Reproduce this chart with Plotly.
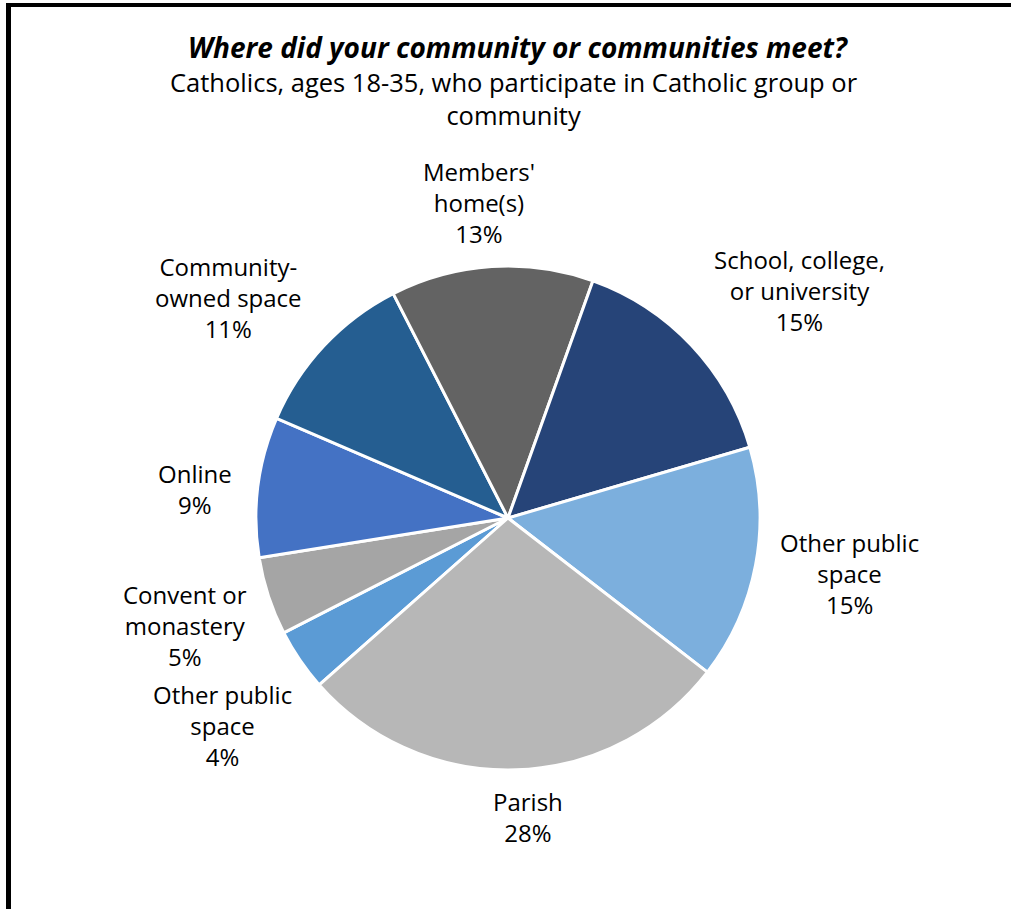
import math
import plotly.graph_objects as go

# ---- data (clockwise order, Excel series order) ----
categories = ["Other public space", "Convent or monastery", "Online", "Community-owned space",
              "Members' home(s)", "School, college, or university", "Other public space", "Parish"]
label_lines = ["Other public<br>space", "Convent or<br>monastery", "Online", "Community-<br>owned space",
               "Members'<br>home(s)", "School, college,<br>or university", "Other public<br>space", "Parish"]
values = [4, 5, 9, 11, 13, 15, 15, 28]
colors = ["#5B9BD5", "#A5A5A5", "#4472C4", "#255E91", "#636363", "#264478", "#7CAFDD", "#B7B7B7"]

title_text = "Where did your community or communities meet?"
subtitle_text = "Catholics, ages 18-35, who participate in Catholic group or<br>community"

# ---- layout / style ----
W, H = 1011, 909
FONT = "Open Sans"
LABEL_SIZE = 24
cx, cy, R = 508, 518, 252
rotation = 228.5
gap = 14
# small per-label pixel nudges (dx right, dy down) to mimic Excel's best-fit placement
label_nudge = [(6, 31), (-6, 10), (-10, 8), (-10, -7), (-12, -3), (10, -13), (9, -3), (11, 2)]

def px(x):
    return x / W

def py(y):
    return 1 - y / H

# unique keys so the two "Other public space" slices are not merged
keys = [f"{i}: {c}" for i, c in enumerate(categories)]

fig = go.Figure()
fig.add_trace(go.Pie(
    labels=keys, values=values, sort=False, direction="clockwise", rotation=rotation,
    marker=dict(colors=colors, line=dict(color="white", width=3)),
    textinfo="none", hovertext=categories, hoverinfo="text+percent", showlegend=False,
    domain=dict(x=[px(cx - R), px(cx + R)], y=[py(cy + R), py(cy - R)]),
))

annotations = []
total = sum(values)
start = rotation
for lab, v, (ndx, ndy) in zip(label_lines, values, label_nudge):
    span = v / total * 360
    mid = math.radians(start + span / 2)
    start += span
    s, c = math.sin(mid), math.cos(mid)
    x = cx + (R + gap) * s
    y = cy - (R + gap) * c
    n_lines = lab.count("<br>") + 2
    h = n_lines * LABEL_SIZE * 1.3
    yc = y - c * h / 2
    xa = "left" if s > 0.25 else ("right" if s < -0.25 else "center")
    pct = round(v / total * 100)
    annotations.append(dict(
        x=px(x + ndx), y=py(yc + ndy), xref="paper", yref="paper", showarrow=False,
        text=f"{lab}<br>{pct}%", xanchor=xa, yanchor="middle", align="center",
        font=dict(family=FONT, size=LABEL_SIZE, color="#000000"),
    ))

annotations.append(dict(x=px(518), y=py(47), xref="paper", yref="paper", showarrow=False,
                        text=f"<b><i>{title_text}</i></b>", xanchor="center", yanchor="middle",
                        font=dict(family=FONT, size=28, color="#000000")))
annotations.append(dict(x=px(514), y=py(99), xref="paper", yref="paper", showarrow=False,
                        text=subtitle_text, xanchor="center", yanchor="middle", align="center",
                        font=dict(family=FONT, size=25.5, color="#000000")))

shapes = [
    dict(type="rect", xref="paper", yref="paper", x0=px(6), x1=px(11), y0=py(H), y1=py(3),
         fillcolor="black", line=dict(width=0)),
    dict(type="rect", xref="paper", yref="paper", x0=px(6), x1=px(W), y0=py(7), y1=py(3),
         fillcolor="black", line=dict(width=0)),
]

fig.update_layout(
    width=W, height=H, margin=dict(l=0, r=0, t=0, b=0),
    paper_bgcolor="white", plot_bgcolor="white",
    annotations=annotations, shapes=shapes,
)

fig.write_html("out.html", config={"displayModeBar": False},
               post_script="document.body.style.margin='0px';document.body.style.overflow='hidden';")
